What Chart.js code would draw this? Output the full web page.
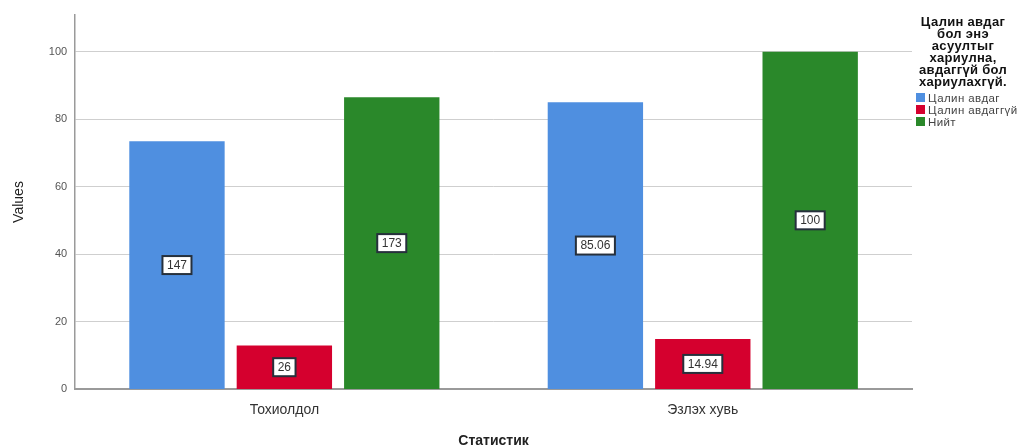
<!DOCTYPE html>
<html lang="mn">
<head>
  <meta charset="UTF-8" />
  <title>Статистик</title>
  <script src="https://cdn.jsdelivr.net/npm/chart.js"></script>
  <style>
    body {
      margin: 0;
      padding: 0;
      background: #fff;
      font-family: 'Liberation Sans', Arial, sans-serif;
    }
    .wrap {
      position: relative;
      width: 1026px;
      height: 445px;
    }
    #legend {
      position: absolute;
      left: 900px;
      top: 16px;
      width: 126px;
      color: #111;
    }
    #legend .ttl {
      font-weight: bold;
      font-size: 13px;
      line-height: 12px;
      letter-spacing: 0.3px;
      text-align: center;
      margin-bottom: 4px;
    }
    #legend .item {
      font-size: 11.5px;
      line-height: 12px;
      letter-spacing: 0.4px;
      color: #444;
      position: relative;
      white-space: nowrap;
    }
    #legend .item span {
      position: absolute;
      left: 16px;
      top: 1px;
      width: 9px;
      height: 9px;
    }
    #legend .item b {
      font-weight: normal;
      margin-left: 28px;
    }
  </style>
</head>
<body>
  <div class="wrap">
    <canvas id="barChart" width="1026" height="445"></canvas>
    <div id="legend"></div>
  </div>

  <script>
    const categories = ["Тохиолдол", "Эзлэх хувь"];
    const seriesNames = ["Цалин авдаг", "Цалин авдаггүй", "Нийт"];
    const seriesColors = ["#4f8fe0", "#d5002e", "#2a882a"];
    // bar heights as drawn in the picture
    const paidValues = [73.5, 85.06];
    const unpaidValues = [13, 14.94];
    const totalValues = [86.5, 100];
    // text shown in the boxes
    const paidLabels = ["147", "85.06"];
    const unpaidLabels = ["26", "14.94"];
    const totalLabels = ["173", "100"];
    const legendTitle = ["Цалин авдаг", "бол энэ", "асуултыг", "хариулна,", "авдаггүй бол", "хариулахгүй."];

    const font = "'Liberation Sans', Arial, sans-serif";

    // legend (multi line title, so built in html)
    const lg = document.getElementById("legend");
    let html = '<div class="ttl">' + legendTitle.join("<br>") + '</div>';
    seriesNames.forEach((n, i) => {
      html += '<div class="item"><span style="background:' + seriesColors[i] + '"></span><b>' + n + '</b></div>';
    });
    lg.innerHTML = html;

    // white boxes with the values in the middle of each bar
    const boxLabels = {
      id: "boxLabels",
      afterDatasetsDraw(chart) {
        const ctx = chart.ctx;
        ctx.save();
        ctx.font = "12px " + font;
        ctx.textAlign = "center";
        ctx.textBaseline = "middle";
        chart.data.datasets.forEach((ds, di) => {
          const meta = chart.getDatasetMeta(di);
          meta.data.forEach((bar, i) => {
            const txt = ds.boxText[i];
            const cx = bar.x;
            const cy = (bar.y + bar.base) / 2;
            const w = ctx.measureText(txt).width + 9;
            const h = 18;
            ctx.fillStyle = "#fff";
            ctx.fillRect(cx - w / 2, cy - h / 2, w, h);
            ctx.strokeStyle = "#26303c";
            ctx.lineWidth = 2;
            ctx.strokeRect(cx - w / 2, cy - h / 2, w, h);
            ctx.fillStyle = "#333";
            ctx.fillText(txt, cx, cy + 0.5);
          });
        });
        ctx.restore();
      }
    };

    const ctx = document.getElementById("barChart").getContext("2d");
    const barChart = new Chart(ctx, {
      type: "bar",
      data: {
        labels: categories,
        datasets: [
          { label: seriesNames[0], data: paidValues, boxText: paidLabels, backgroundColor: seriesColors[0] },
          { label: seriesNames[1], data: unpaidValues, boxText: unpaidLabels, backgroundColor: seriesColors[1] },
          { label: seriesNames[2], data: totalValues, boxText: totalLabels, backgroundColor: seriesColors[2] }
        ]
      },
      options: {
        responsive: false,
        animation: false,
        layout: { padding: { top: 14, right: 114, left: 11, bottom: -5 } },
        datasets: {
          bar: { categoryPercentage: 0.77, barPercentage: 0.888 }
        },
        plugins: {
          legend: { display: false },
          tooltip: { enabled: false }
        },
        scales: {
          x: {
            grid: { display: false },
            border: { color: "#9a9a9a", width: 2 },
            ticks: { color: "#333", font: { family: font, size: 14 }, padding: 4 },
            title: {
              display: true,
              text: "Статистик",
              color: "#222",
              font: { family: font, size: 14, weight: "bold" },
              padding: { top: 11, bottom: 0 }
            }
          },
          y: {
            min: 0,
            max: 111,
            afterBuildTicks(scale) {
              scale.ticks = [0, 20, 40, 60, 80, 100].map(v => ({ value: v }));
            },
            grid: { color: "#cfcfcf", drawTicks: false },
            border: { color: "#9a9a9a", width: 1.5 },
            ticks: { color: "#555", font: { family: font, size: 11 }, padding: 8 },
            title: {
              display: true,
              text: "Values",
              color: "#222",
              font: { family: font, size: 14 },
              padding: { top: 0, bottom: 13 }
            }
          }
        }
      },
      plugins: [boxLabels]
    });
  </script>
</body>
</html>
